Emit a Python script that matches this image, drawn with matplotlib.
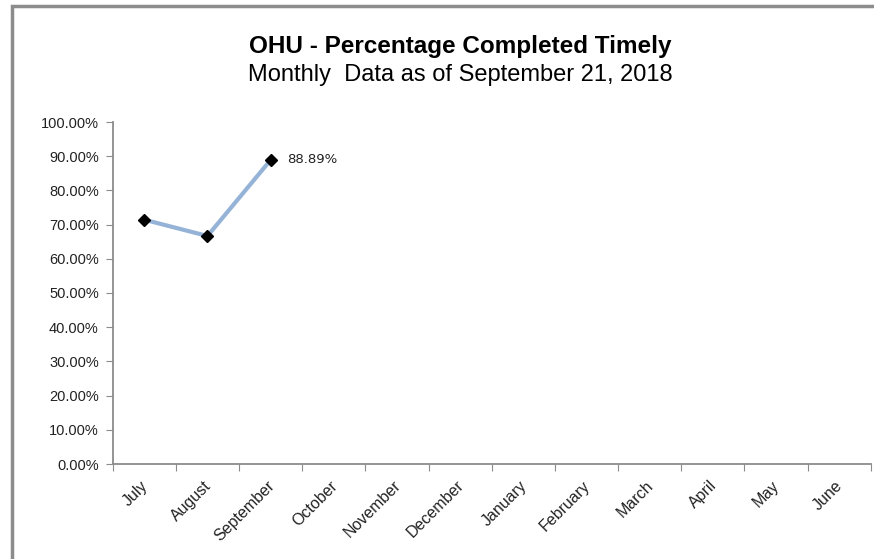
import matplotlib.pyplot as plt
import matplotlib.transforms as mtransforms
from matplotlib.patches import Rectangle

plt.rcParams['font.family'] = ['Liberation Sans', 'DejaVu Sans']

months = ['July', 'August', 'September', 'October', 'November', 'December',
          'January', 'February', 'March', 'April', 'May', 'June']
pct_done = [71.43, 66.67, 88.89]
y_ticks = [0, 10, 20, 30, 40, 50, 60, 70, 80, 90, 100]

fig = plt.figure(figsize=(8.74, 5.59), dpi=100)
ax = fig.add_axes([112.7 / 874, 1 - 464 / 559, (870.7 - 112.7) / 874, 342 / 559])

# gray chart border (top and left edges visible in screenshot)
fig.add_artist(Rectangle((11.5 / 874, -0.1), 1.2, 1.1 - 6.5 / 559,
                         transform=fig.transFigure, fill=False,
                         edgecolor='#8c8c8c', linewidth=2.5))

x = list(range(len(pct_done)))
ax.plot(x, pct_done, color='#95b3d7', linewidth=3, marker='D',
        markersize=6, markerfacecolor='black', markeredgecolor='black', zorder=3)
ax.annotate(f'{pct_done[-1]:.2f}%', (x[-1], pct_done[-1]),
            xytext=(12, 0), textcoords='offset points',
            ha='left', va='center', fontsize=9.5, color='#222222',
            family=['DejaVu Sans'])

ax.set_xlim(-0.5, len(months) - 0.5)
ax.set_ylim(0, 100)
ax.set_yticks(y_ticks)
ax.set_yticklabels([f'{v:.2f}%' for v in y_ticks], fontsize=10.5, color='#222222')
ax.set_xticks([i - 0.5 for i in range(len(months) + 1)], minor=False)
ax.set_xticklabels([])
ax.set_xticks(range(len(months)), minor=True)
ax.set_xticklabels(months, minor=True, rotation=45, ha='right',
                   rotation_mode='anchor', fontsize=11.5, color='#222222')
ax.tick_params(axis='x', which='minor', length=0, pad=10)
ax.tick_params(axis='x', which='major', length=5, color='#8c8c8c', direction='out')
ax.tick_params(axis='y', length=5, color='#8c8c8c', direction='out', pad=5)

# nudge month labels a bit to the left
shift = mtransforms.ScaledTranslation(-4 / 100, 0, fig.dpi_scale_trans)
for lbl in ax.get_xticklabels(minor=True):
    lbl.set_transform(lbl.get_transform() + shift)

for s in ['top', 'right']:
    ax.spines[s].set_visible(False)
for s in ['left', 'bottom']:
    ax.spines[s].set_color('#8c8c8c')
    ax.spines[s].set_linewidth(1.3)

fig.text(460 / 874, 1 - 46 / 559, 'OHU - Percentage Completed Timely',
         ha='center', va='center', fontsize=17.5, fontweight='bold')
fig.text(460 / 874, 1 - 75 / 559, 'Monthly  Data as of September 21, 2018',
         ha='center', va='center', fontsize=17)

fig.savefig('out.png', dpi=100)
